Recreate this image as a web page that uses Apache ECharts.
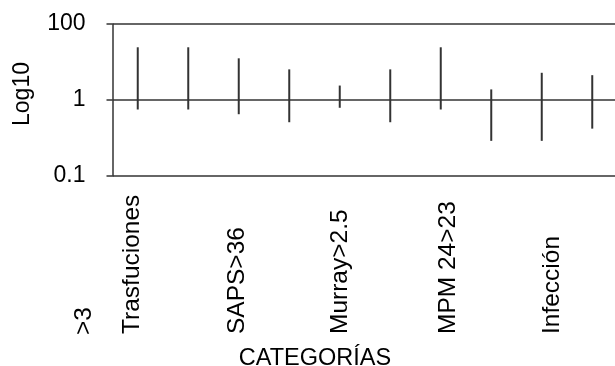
<!DOCTYPE html>
<html>
<head>
<meta charset="utf-8">
<script src="https://cdn.jsdelivr.net/npm/echarts@6/dist/echarts.min.js"></script>
<style>
html,body{margin:0;padding:0;background:#fff;}
#c{width:615px;height:366px;}
</style>
</head>
<body>
<div id="c"></div>
<script>
// Category labels (only every other one is printed on the axis in the reference)
var categories = ['Trasfuciones', '', 'SAPS>36', '', 'Murray>2.5', '', 'MPM 24>23', '', 'Infección', ''];
// Interval limits (in the units printed on the axis)
var upperValues = [24.4, 24.4, 12.5, 6.4, 2.4, 6.4, 24.4, 1.9, 5.2, 4.5];
var lowerValues = [0.75, 0.75, 0.65, 0.51, 0.79, 0.51, 0.75, 0.29, 0.29, 0.42];
// Tick labels of the y axis (equally spaced in the reference)
var yTickLabels = ['0.1', '1', '100'];
var extraLabel = '>3';

// small horizontal nudges of the printed labels (style only, px)
var labelNudge = [-6, 0, -2, 0, 0, 0, 7, 0, 10, 0];

// Axis position: 0.1 -> -1, 1 -> 0, 100 -> 1 (equal spacing as in the reference)
function toAxis(v) {
  var l = Math.log10(v);
  return l >= 0 ? l / 2 : l;
}

var seriesData = categories.map(function (c, i) {
  return [i, toAxis(lowerValues[i]), toAxis(upperValues[i])];
});

var FONT = 'Liberation Sans, Arial, Helvetica, sans-serif';
var LINE = '#333';

var rich = {};
labelNudge.forEach(function (d, i) {
  rich['n' + i] = {
    fontFamily: FONT, fontSize: 24.5, color: '#000',
    padding: d >= 0 ? [2 * d, 0, 0, 0] : [0, 0, -2 * d, 0]
  };
});

var chart = echarts.init(document.getElementById('c'), null, {renderer: 'canvas'});
chart.setOption({
  animation: false,
  backgroundColor: '#fff',
  grid: {left: 112.5, right: -2.5, top: 24, bottom: 190, containLabel: false, outerBoundsMode: 'none'},
  xAxis: {
    type: 'category',
    data: categories,
    boundaryGap: true,
    axisLine: {show: false},
    axisTick: {show: false},
    splitLine: {show: false},
    axisLabel: {
      interval: 0,
      rotate: 90,
      align: 'left',
      verticalAlign: 'middle',
      margin: 158,
      fontFamily: FONT,
      fontSize: 24.5,
      color: '#000',
      rich: rich,
      formatter: function (v, i) {
        return v ? '{n' + i + '|' + v + '}' : '';
      }
    },
    name: 'CATEGORÍAS',
    nameLocation: 'middle',
    nameGap: 171,
    nameMoveOverlap: false,
    nameTextStyle: {fontFamily: FONT, fontSize: 23.5, color: '#000', padding: [0, 100, 0, 0]}
  },
  yAxis: {
    type: 'value',
    min: -1,
    max: 1,
    interval: 1,
    axisLine: {show: true, lineStyle: {color: LINE, width: 1.5}},
    axisTick: {show: true, inside: false, length: 6, lineStyle: {color: LINE, width: 1.5}},
    splitLine: {show: true, lineStyle: {color: LINE, width: 1.5}},
    axisLabel: {
      margin: 27,
      fontFamily: FONT,
      fontSize: 23,
      color: '#000',
      formatter: function (v) {
        return yTickLabels[Math.round(v) + 1];
      }
    },
    name: 'Log10',
    nameLocation: 'middle',
    nameGap: 78,
    nameRotate: 90,
    nameMoveOverlap: false,
    nameTextStyle: {fontFamily: FONT, fontSize: 23, color: '#000', padding: [0, 0, 0, 12]}
  },
  graphic: [{
    type: 'text',
    x: 84,
    y: 335,
    rotation: Math.PI / 2,
    style: {
      text: extraLabel,
      font: '24.5px ' + FONT,
      fill: '#000',
      align: 'left',
      verticalAlign: 'middle'
    }
  }],
  series: [{
    type: 'custom',
    data: seriesData,
    encode: {x: 0, y: [1, 2]},
    renderItem: function (params, api) {
      var p1 = api.coord([api.value(0), api.value(1)]);
      var p2 = api.coord([api.value(0), api.value(2)]);
      return {
        type: 'line',
        shape: {x1: p1[0], y1: p1[1], x2: p2[0], y2: p2[1]},
        style: {stroke: LINE, lineWidth: 2}
      };
    }
  }]
});
</script>
</body>
</html>
